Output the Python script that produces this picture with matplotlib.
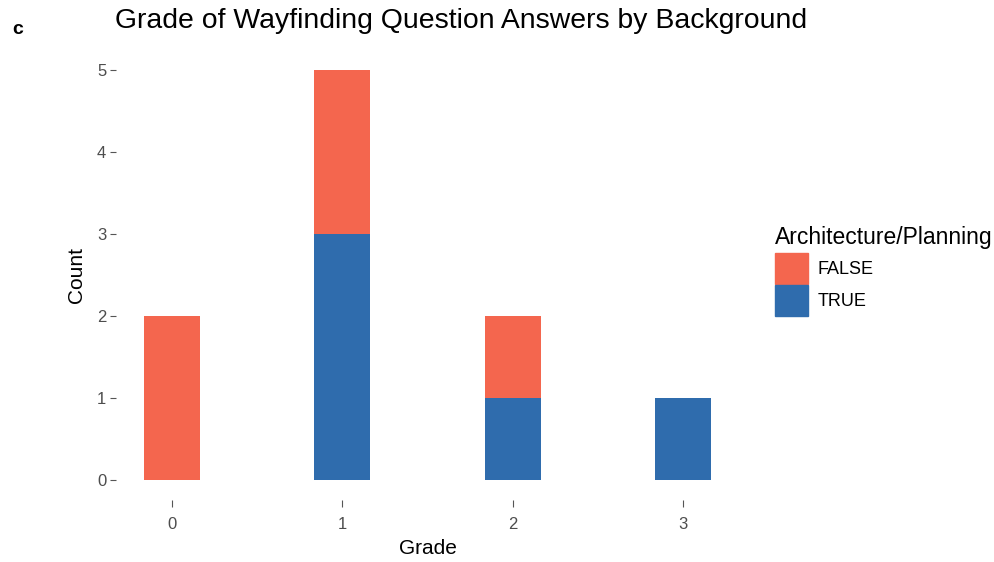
import numpy as np
import matplotlib
matplotlib.use("Agg")
import matplotlib.pyplot as plt
from matplotlib.patches import Patch

plt.rcParams['font.family'] = ['Liberation Sans', 'DejaVu Sans']

grades = [0, 1, 2, 3]
countFalse = [2, 2, 1, 0]
countTrue = [0, 3, 1, 1]
labels = ['FALSE', 'TRUE']
colors = ['#F4664E', '#2F6CAD']

fig = plt.figure(figsize=(9.95, 5.62), dpi=100)
ax = fig.add_axes([116 / 995, 1 - 500 / 562, (739 - 116) / 995, (500 - 50) / 562])

largura = 0.33
ax.bar(grades, countTrue, width=largura, color=colors[1])
ax.bar(grades, countFalse, width=largura, bottom=countTrue, color=colors[0])

ax.set_xlim(-0.33, 3.33)
ax.set_ylim(-0.25, 5.25)
ax.set_xticks(grades)
ax.set_yticks(range(6))
for s in ax.spines.values():
    s.set_visible(False)
ax.tick_params(axis='y', length=4, width=0.8, color='#555555', pad=3,
               labelsize=12, labelcolor='#4D4D4D')
ax.tick_params(axis='x', length=5, width=0.8, color='#555555', pad=7,
               labelsize=12, labelcolor='#4D4D4D')
ax.set_xlabel('Grade', fontsize=15, labelpad=5)
ax.set_ylabel('Count', fontsize=15, labelpad=8)

fig.text(115 / 995, 1 - 21 / 562, 'Grade of Wayfinding Question Answers by Background',
         fontsize=20.4, ha='left', va='center')
fig.text(12 / 995, 1 - 30 / 562, 'c', fontsize=14, fontweight='bold', ha='left', va='center')

handles = [Patch(color=colors[0], label=labels[0]), Patch(color=colors[1], label=labels[1])]
leg = fig.legend(handles=handles, title='Architecture/Planning', loc='upper left',
                 bbox_to_anchor=(768 / 995, 1 - 219 / 562), frameon=False,
                 fontsize=13, title_fontsize=16.5, handlelength=1.83, handleheight=2.2,
                 handletextpad=0.5, labelspacing=0.1, borderaxespad=0)
leg._legend_box.align = 'left'
leg._legend_box.sep = 3

fig.savefig('out.png', dpi=100)
